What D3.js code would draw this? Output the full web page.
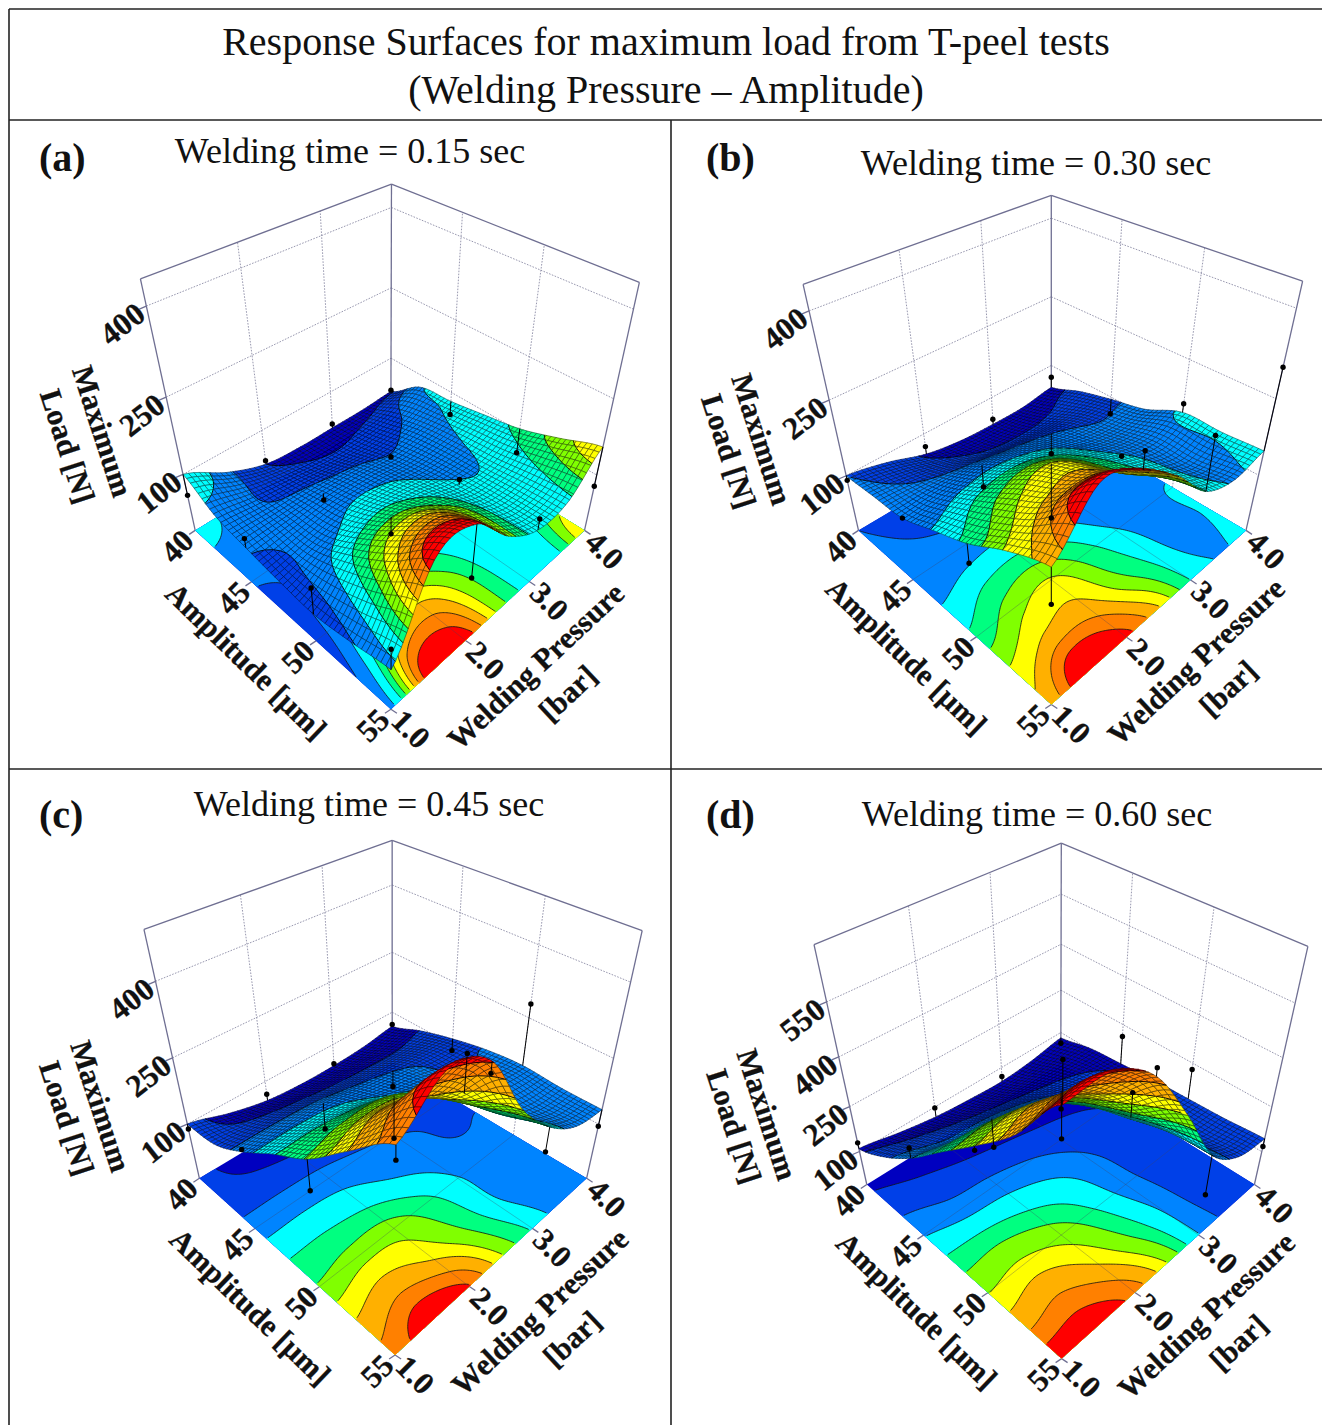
<!DOCTYPE html>
<meta charset="utf-8">
<style>
body { margin: 0; background: #fff; }
text { font-family: "Liberation Serif", serif; fill: #111; }
.tick { font-weight: bold; font-size: 31.5px; stroke: #111; stroke-width: 0.3px; }
.axisTitle { font-weight: bold; font-size: 30.5px; stroke: #111; stroke-width: 0.3px; }
</style>
<body>
<script src="https://d3js.org/d3.v7.min.js"></script>
<script>

var width = 1322, height = 1425;

// data
var amplitudeTicks = [40, 45, 50, 55];
var pressureTicks = [1, 2, 3, 4];
var bandColors = ["#0000c0", "#0040e8", "#0084ff", "#00ffff", "#00ff80", "#80ff00", "#ffff00", "#ffb000", "#ff8000", "#ff0000"];

// rows = amplitude 40..55 in 2.5 steps, columns = pressure 1..4 in 0.5 steps
var surfaceA = [
  [100, 55, 25, 18, 18, 18, 22],
  [65, 50, 40, 30, 30, 42, 72],
  [52, 55, 60, 58, 50, 62, 80],
  [42, 62, 80, 78, 66, 72, 92],
  [36, 100, 118, 102, 78, 78, 105],
  [48, 150, 172, 128, 86, 88, 130],
  [65, 215, 215, 135, 90, 95, 158]
];
var surfaceB = [
  [100, 82, 55, 42, 38, 38, 48],
  [106, 95, 78, 62, 58, 62, 75],
  [112, 120, 122, 112, 100, 92, 95],
  [142, 160, 165, 150, 122, 108, 112],
  [173, 205, 218, 178, 142, 125, 145],
  [218, 250, 250, 198, 155, 125, 145],
  [250, 330, 300, 242, 165, 138, 150]
];
var surfaceC = [
  [100, 72, 52, 45, 45, 50, 62],
  [108, 102, 95, 88, 85, 85, 92],
  [150, 152, 150, 138, 128, 120, 115],
  [205, 205, 195, 170, 150, 128, 132],
  [255, 272, 270, 222, 172, 150, 140],
  [330, 360, 320, 250, 178, 142, 135],
  [400, 465, 430, 295, 205, 150, 135]
];
var surfaceD = [
  [110, 85, 65, 55, 50, 60, 80],
  [165, 145, 125, 110, 100, 100, 105],
  [245, 218, 212, 190, 158, 130, 115],
  [347, 347, 315, 268, 200, 145, 125],
  [447, 466, 420, 320, 215, 150, 130],
  [555, 580, 505, 375, 245, 150, 135],
  [700, 700, 620, 450, 255, 165, 145]
];

// measured points: rows = amplitude 40..55, columns = pressure 1..4
var pointsA = [
  [55, 33, 27, 25],
  [72, 45, 42, 50],
  [92, 82, 90, 52],
  [108, 112, 113, 76]
];
var pointsB = [
  [90, 72, 50, 72],
  [112, 75, 55, 62],
  [135, 112, 140, 163],
  [185, 330, 267, 305]
];
var pointsC = [
  [88, 68, 50, 67],
  [155, 88, 88, 85],
  [190, 180, 260, 280],
  [375, 410, 150, 95]
];
var pointsD = [
  [130, 97, 68, 60],
  [277, 115, 94, 210],
  [435, 305, 295, 230],
  [790, 640, 125, 118]
];

var levelsA = [25, 50, 75, 100, 120, 140, 160, 180, 200];
var levelsB = [60, 100, 140, 165, 190, 215, 240, 265, 290];
var levelsC = [90, 130, 170, 210, 250, 290, 330, 380, 425];
var levelsD = [120, 185, 250, 320, 380, 450, 510, 580, 650];

var loadTicksABC = [100, 250, 400];
var loadTicksD = [100, 250, 400, 550];

// screen frame of each panel: left, bottom, right, back floor corners, then the three tops
var panels = [
  {name: "(a)", nameX: 39, nameY: 171, time: "Welding time = 0.15 sec", timeX: 350, timeY: 163,
   surface: surfaceA, points: pointsA, levels: levelsA, loadTicks: loadTicksABC, zDomain: [-25, 440],
   floor: [[195.2, 530.4], [390.9, 709.3], [584.5, 530.4], [390.9, 410.4]],
   tops: [[140.5, 280], [390.9, 185.2], [640, 280]],
   maxOff: [-93, -99], loadOff: [-128, -84]},
  {name: "(b)", nameX: 706, nameY: 171, time: "Welding time = 0.30 sec", timeX: 1036, timeY: 175,
   surface: surfaceB, points: pointsB, levels: levelsB, loadTicks: loadTicksABC, zDomain: [-25, 440],
   floor: [[858.5, 530.4], [1051.3, 704.5], [1246, 530.4], [1051.3, 416.4]],
   tops: [[803.8, 285.8], [1052, 190.5], [1301, 285.8]],
   maxOff: [-97, -91], loadOff: [-130, -79]},
  {name: "(c)", nameX: 39, nameY: 828, time: "Welding time = 0.45 sec", timeX: 369, timeY: 816,
   surface: surfaceC, points: pointsC, levels: levelsC, loadTicks: loadTicksABC, zDomain: [-40, 490],
   floor: [[199.4, 1178.3], [395.1, 1355], [586.6, 1178.3], [392.2, 1062.5]],
   tops: [[144.7, 932], [392.2, 837.3], [641.4, 932]],
   maxOff: [-99, -72], loadOff: [-133, -60]},
  {name: "(d)", nameX: 706, nameY: 828, time: "Welding time = 0.60 sec", timeX: 1037, timeY: 826,
   surface: surfaceD, points: pointsD, levels: levelsD, loadTicks: loadTicksD, zDomain: [-20, 690],
   floor: [[866.8, 1184.5], [1061.6, 1358.6], [1254.4, 1184.5], [1060.8, 1064]],
   tops: [[813, 942], [1060.8, 848.8], [1309.5, 942]],
   maxOff: [-100, -70], loadOff: [-133, -58]}
];

var svg = d3.select("body").append("svg")
    .attr("width", width)
    .attr("height", height)
    .style("display", "block");

// page frame
var frame = [[9, 9, 1322, 9], [9, 9, 9, 1425], [9, 120, 1322, 120], [671, 120, 671, 1425], [9, 769, 1322, 769]];
svg.selectAll("line.frame").data(frame).join("line")
    .attr("class", "frame")
    .attr("x1", d => d[0]).attr("y1", d => d[1]).attr("x2", d => d[2]).attr("y2", d => d[3])
    .attr("stroke", "#222").attr("stroke-width", 1.6);

svg.append("text").attr("x", 666).attr("y", 55).attr("text-anchor", "middle").style("font-size", "40px")
    .text("Response Surfaces for maximum load from T-peel tests");
svg.append("text").attr("x", 666).attr("y", 103).attr("text-anchor", "middle").style("font-size", "40px")
    .text("(Welding Pressure – Amplitude)");

var sScale = d3.scaleLinear().domain([40, 55]).range([0, 1]);
var tScale = d3.scaleLinear().domain([1, 4]).range([0, 1]);

// projective map of the unit box onto the panel frame
function makeProjection(p) {
  var f = p.floor;
  var x0 = f[0][0], y0 = f[0][1], x1 = f[1][0], y1 = f[1][1], x2 = f[2][0], y2 = f[2][1], x3 = f[3][0], y3 = f[3][1];
  var dx1 = x1 - x2, dx2 = x3 - x2, sx = x0 - x1 + x2 - x3;
  var dy1 = y1 - y2, dy2 = y3 - y2, sy = y0 - y1 + y2 - y3;
  var det = dx1 * dy2 - dx2 * dy1;
  var g = (sx * dy2 - dx2 * sy) / det, h = (dx1 * sy - sx * dy1) / det;
  var a = x1 - x0 + g * x1, b = x3 - x0 + h * x3;
  var d = y1 - y0 + g * y1, e = y3 - y0 + h * y3;

  // fit the vertical column to the three top corners, least squares
  var base = [[0, 0], [0, 1], [1, 1]].map(function(c) {
    var w = g * c[0] + h * c[1] + 1;
    return {bx: a * c[0] + b * c[1] + x0, by: d * c[0] + e * c[1] + y0, w: w};
  });
  var rx = p.tops.map((t, i) => t[0] * base[i].w - base[i].bx);
  var ry = p.tops.map((t, i) => t[1] * base[i].w - base[i].by);
  var mtx = d3.mean(p.tops, t => t[0]), mty = d3.mean(p.tops, t => t[1]);
  var mrx = d3.mean(rx), mry = d3.mean(ry);
  var num = 0, den = 0;
  p.tops.forEach(function(t, i) {
    num += (t[0] - mtx) * (rx[i] - mrx) + (t[1] - mty) * (ry[i] - mry);
    den += (t[0] - mtx) * (t[0] - mtx) + (t[1] - mty) * (t[1] - mty);
  });
  var cz = -num / den;
  var cx = mrx + mtx * cz, cy = mry + mty * cz;

  return function(s, t, w) {
    var q = g * s + h * t + 1 + cz * w;
    return [(a * s + b * t + x0 + cx * w) / q, (d * s + e * t + y0 + cy * w) / q];
  };
}

function catmull(p0, p1, p2, p3, x) {
  return p1 + 0.5 * x * (p2 - p0 + x * (2 * p0 - 5 * p1 + 4 * p2 - p3 + x * (3 * (p1 - p2) + p3 - p0)));
}

// smooth the read values to a drawing mesh
function sampler(grid) {
  var n = grid.length - 1;
  var at = (i, j) => grid[Math.max(0, Math.min(n, i))][Math.max(0, Math.min(n, j))];
  return function(s, t) {
    var si = Math.min(n - 1, Math.floor(s * n)), ti = Math.min(n - 1, Math.floor(t * n));
    var fs = s * n - si, ft = t * n - ti, row = [];
    for (var k = -1; k < 3; k++) {
      row.push(catmull(at(si + k, ti - 1), at(si + k, ti), at(si + k, ti + 1), at(si + k, ti + 2), ft));
    }
    return catmull(row[0], row[1], row[2], row[3], fs);
  };
}

function clipAbove(poly, level, keepAbove) {
  var out = [];
  poly.forEach(function(c, i) {
    var n = poly[(i + 1) % poly.length];
    var ci = keepAbove ? c[2] >= level : c[2] <= level;
    var ni = keepAbove ? n[2] >= level : n[2] <= level;
    if (ci) out.push(c);
    if (ci !== ni) {
      var r = (level - c[2]) / (n[2] - c[2]);
      out.push([c[0] + r * (n[0] - c[0]), c[1] + r * (n[1] - c[1]), level]);
    }
  });
  return out;
}

function polyPath(poly) {
  return "M" + poly.map(c => c[0].toFixed(2) + "," + c[1].toFixed(2)).join("L") + "Z";
}

panels.forEach(function(p) {

  var project = makeProjection(p);
  var zScale = d3.scaleLinear().domain(p.zDomain).range([0, 1]);
  var zMin = p.zDomain[0], zMax = p.zDomain[1];
  var value = sampler(p.surface);
  var band = d3.scaleThreshold().domain(p.levels).range(bandColors);
  var pt = (amp, pres, load) => project(sScale(amp), tScale(pres), zScale(load));
  var g = svg.append("g");
  var lineGen = d3.line();

  g.append("text").attr("x", p.nameX).attr("y", p.nameY).style("font-size", "40px").style("font-weight", "bold").text(p.name);
  g.append("text").attr("x", p.timeX).attr("y", p.timeY).attr("text-anchor", "middle").style("font-size", "36px").text(p.time);

  // walls
  var wallGrid = [];
  p.loadTicks.forEach(function(z) {
    wallGrid.push([pt(40, 1, z), pt(40, 4, z)]);
    wallGrid.push([pt(40, 4, z), pt(55, 4, z)]);
  });
  pressureTicks.slice(1, 3).forEach(function(v) { wallGrid.push([pt(40, v, zMin), pt(40, v, zMax)]); });
  amplitudeTicks.slice(1, 3).forEach(function(v) { wallGrid.push([pt(v, 4, zMin), pt(v, 4, zMax)]); });
  g.selectAll("path.wall").data(wallGrid).join("path")
      .attr("class", "wall")
      .attr("d", lineGen)
      .attr("fill", "none").attr("stroke", "#8c8ca6").attr("stroke-width", 0.9).attr("stroke-dasharray", "1.6 1.4");

  var edges = [
    [pt(40, 1, zMin), pt(40, 1, zMax)], [pt(40, 4, zMin), pt(40, 4, zMax)], [pt(55, 4, zMin), pt(55, 4, zMax)],
    [pt(40, 1, zMax), pt(40, 4, zMax)], [pt(40, 4, zMax), pt(55, 4, zMax)]
  ];
  p.loadTicks.forEach(function(z) {
    var a = pt(40, 1, z);
    edges.push([a, [a[0] - 7, a[1] + 3]]);
  });
  amplitudeTicks.forEach(function(v) {
    var a = pt(v, 1, zMin);
    edges.push([a, [a[0] - 6, a[1] + 4]]);
  });
  pressureTicks.forEach(function(v) {
    var a = pt(55, v, zMin);
    edges.push([a, [a[0] + 6, a[1] + 4]]);
  });
  g.selectAll("path.edge").data(edges).join("path")
      .attr("class", "edge")
      .attr("d", lineGen)
      .attr("fill", "none").attr("stroke", "#6f6f92").attr("stroke-width", 1.3);

  // contour floor
  var floorN = 161, floorValues = [];
  for (var y = 0; y < floorN; y++) {
    for (var x = 0; x < floorN; x++) {
      floorValues.push(value(y / (floorN - 1), x / (floorN - 1)));
    }
  }
  var toUnit = d3.scaleLinear().domain([0.5, floorN - 0.5]).range([0, 1]).clamp(true);
  var floorPoint = (x, y) => project(toUnit(y), toUnit(x), 0);
  var floorPath = d3.geoPath(d3.geoTransform({
    point: function(x, y) {
      var q = floorPoint(x, y);
      this.stream.point(q[0], q[1]);
    }
  }));
  var contours = d3.contours().size([floorN, floorN]).thresholds(p.levels)(floorValues);
  g.append("path")
      .attr("d", lineGen([pt(40, 1, zMin), pt(55, 1, zMin), pt(55, 4, zMin), pt(40, 4, zMin)]) + "Z")
      .attr("fill", bandColors[0]);
  g.selectAll("path.band").data(contours).join("path")
      .attr("class", "band")
      .attr("d", floorPath)
      .attr("fill", (d, i) => bandColors[i + 1]);

  var contourLines = [];
  contours.forEach(function(c) {
    c.coordinates.forEach(function(poly) {
      poly.forEach(function(ring) {
        var run = [];
        ring.forEach(function(q) {
          var outer = q[0] <= 0.5 || q[1] <= 0.5 || q[0] >= floorN - 0.5 || q[1] >= floorN - 0.5;
          if (outer) {
            if (run.length > 1) contourLines.push(run);
            run = [];
          } else {
            run.push(floorPoint(q[0], q[1]));
          }
        });
        if (run.length > 1) contourLines.push(run);
      });
    });
  });
  g.selectAll("path.contour").data(contourLines).join("path")
      .attr("class", "contour")
      .attr("d", lineGen)
      .attr("fill", "none").attr("stroke", "#111").attr("stroke-width", 0.8);

  var floorGrid = [];
  amplitudeTicks.slice(1, 3).forEach(function(v) { floorGrid.push([pt(v, 1, zMin), pt(v, 4, zMin)]); });
  pressureTicks.slice(1, 3).forEach(function(v) { floorGrid.push([pt(40, v, zMin), pt(55, v, zMin)]); });
  g.selectAll("path.floorGrid").data(floorGrid).join("path")
      .attr("class", "floorGrid")
      .attr("d", lineGen)
      .attr("fill", "none").attr("stroke", "#404060").attr("stroke-opacity", 0.45).attr("stroke-width", 0.7);

  // surface mesh, back to front
  var cells = 50, shapes = [];
  for (var i = 0; i < cells; i++) {
    for (var j = cells - 1; j >= 0; j--) {
      var corners = [[i, j], [i + 1, j], [i + 1, j + 1], [i, j + 1]].map(function(c) {
        var v = value(c[0] / cells, c[1] / cells);
        var q = project(c[0] / cells, c[1] / cells, zScale(v));
        return [q[0], q[1], v];
      });
      var vals = corners.map(c => c[2]);
      var lo = d3.min(vals), hi = d3.max(vals);
      if (band(lo) === band(hi)) {
        shapes.push({d: polyPath(corners), fill: band(lo), stroke: band(lo), w: 0.3});
      } else {
        bandColors.forEach(function(color, k) {
          var poly = corners;
          if (k > 0) poly = clipAbove(poly, p.levels[k - 1], true);
          if (k < p.levels.length && poly.length) poly = clipAbove(poly, p.levels[k], false);
          if (poly.length > 2) shapes.push({d: polyPath(poly), fill: color, stroke: color, w: 0.3});
        });
        p.levels.forEach(function(level) {
          var hits = [];
          corners.forEach(function(c, m) {
            var n = corners[(m + 1) % 4];
            if ((c[2] - level) * (n[2] - level) < 0) {
              var r = (level - c[2]) / (n[2] - c[2]);
              hits.push([c[0] + r * (n[0] - c[0]), c[1] + r * (n[1] - c[1])]);
            }
          });
          if (hits.length >= 2) shapes.push({d: "M" + hits[0] + "L" + hits[1], fill: "none", stroke: "#000", w: 0.9});
        });
      }
      shapes.push({d: polyPath(corners), fill: "none", stroke: "#000", w: 0.45, o: 0.9});
    }
  }
  g.selectAll("path.mesh").data(shapes).join("path")
      .attr("class", "mesh")
      .attr("d", d => d.d)
      .attr("fill", d => d.fill)
      .attr("stroke", d => d.stroke)
      .attr("stroke-width", d => d.w)
      .attr("stroke-opacity", d => d.o || 1);

  // measured points with their stems
  var measured = [];
  p.points.forEach(function(row, ia) {
    row.forEach(function(load, ip) {
      var amp = amplitudeTicks[ia], pres = pressureTicks[ip];
      measured.push({dot: pt(amp, pres, load), foot: pt(amp, pres, value(sScale(amp), tScale(pres)))});
    });
  });
  g.selectAll("line.stem").data(measured).join("line")
      .attr("class", "stem")
      .attr("x1", d => d.dot[0]).attr("y1", d => d.dot[1])
      .attr("x2", d => d.foot[0]).attr("y2", d => d.foot[1])
      .attr("stroke", "#000").attr("stroke-width", 1);
  g.selectAll("circle.dot").data(measured).join("circle")
      .attr("class", "dot")
      .attr("cx", d => d.dot[0]).attr("cy", d => d.dot[1]).attr("r", 2.7)
      .attr("fill", "#000");

  // tick labels
  function label(cls, txt, x, y, angle) {
    g.append("text").attr("class", cls)
        .attr("text-anchor", "middle").attr("dominant-baseline", "central")
        .attr("transform", `translate(${x},${y}) rotate(${angle})`)
        .text(txt);
  }
  p.loadTicks.forEach(function(z) {
    var a = pt(40, 1, z);
    label("tick", z, a[0] - 24, a[1] + 18, -38);
  });
  amplitudeTicks.forEach(function(v) {
    var a = pt(v, 1, zMin);
    label("tick", v, a[0] - 18, a[1] + 16, -45);
  });
  pressureTicks.forEach(function(v) {
    var a = pt(55, v, zMin);
    label("tick", d3.format(".1f")(v), a[0] + 20, a[1] + 20, 45);
  });
  var left = p.floor[0], bottom = p.floor[1];
  label("axisTitle", "Amplitude [µm]", bottom[0] - 145, bottom[1] - 48, 44);
  label("axisTitle", "Welding Pressure", bottom[0] + 145, bottom[1] - 43, -43);
  label("axisTitle", "[bar]", bottom[0] + 177, bottom[1] - 16, -43);
  label("axisTitle", "Maximum", left[0] + p.maxOff[0], left[1] + p.maxOff[1], 72);
  label("axisTitle", "Load [N]", left[0] + p.loadOff[0], left[1] + p.loadOff[1], 72);
});

</script>
</body>
